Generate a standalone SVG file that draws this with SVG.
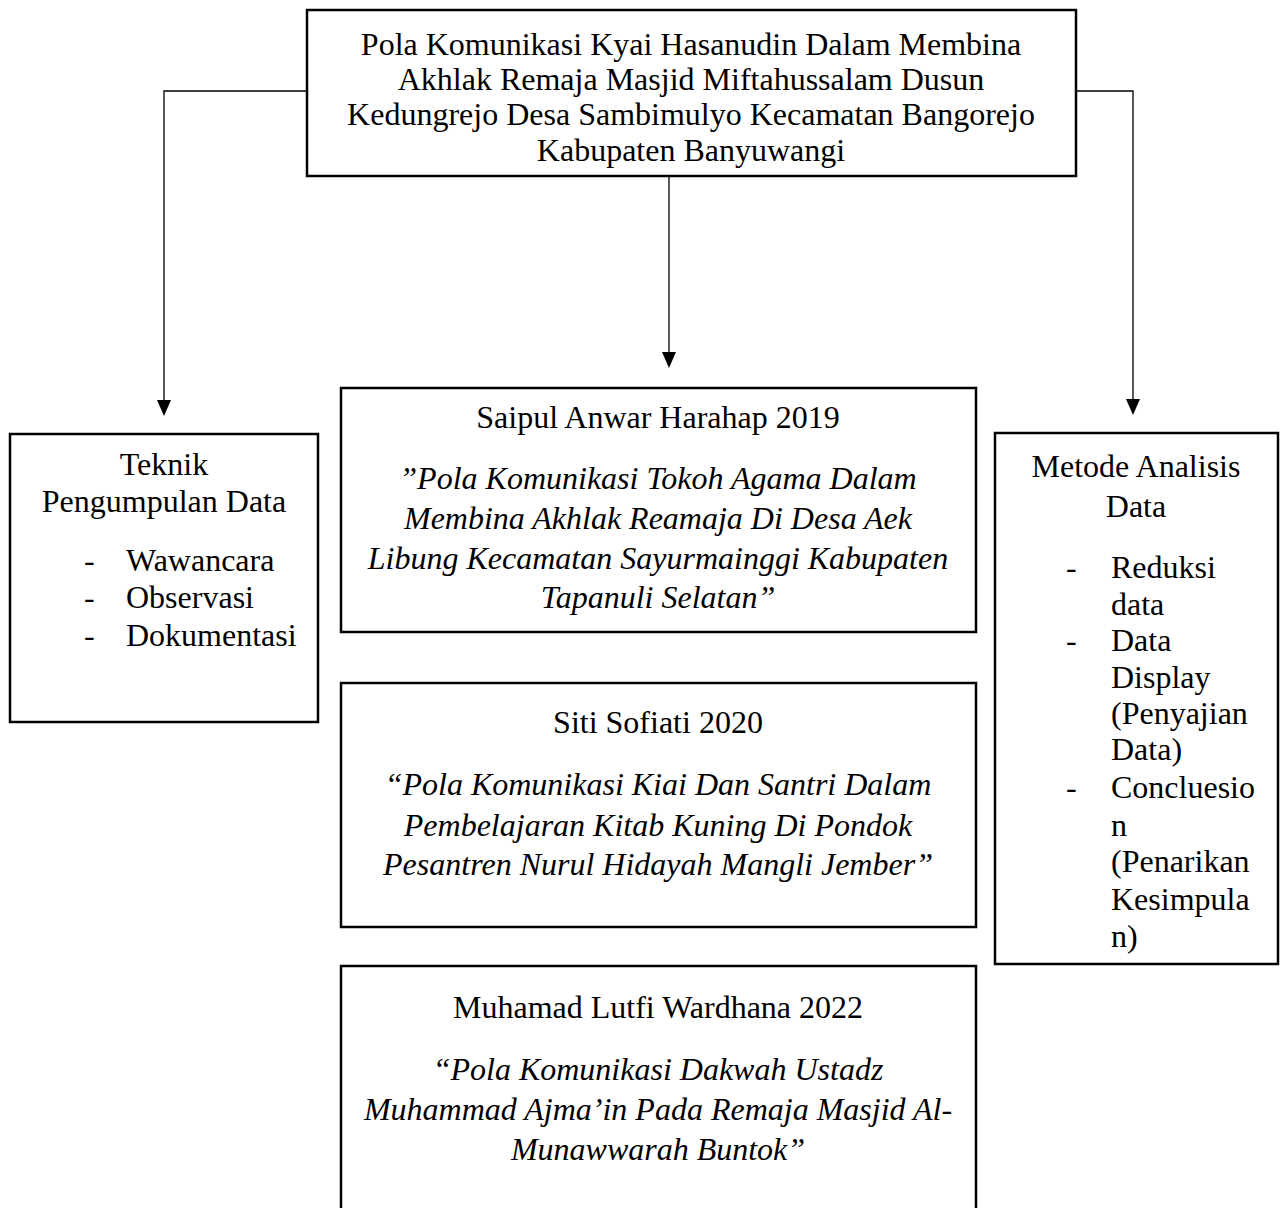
<svg xmlns="http://www.w3.org/2000/svg" width="1288" height="1208" viewBox="0 0 1288 1208">
<defs>
<style>
.box{fill:#fff;stroke:#000;stroke-width:2.5}
.t{font-family:"Liberation Serif","Times New Roman",serif;font-size:32px;fill:#000}
.c{text-anchor:middle}
.i{font-style:italic}
.ln{fill:none;stroke:#000;stroke-width:1.3}
</style>
</defs>
<rect width="1288" height="1208" fill="#fff"/>
<g id="connectors">
<polyline class="ln" points="307,91 164,91 164,400"/>
<path d="M157,400 L171,400 L164,416 Z" fill="#000"/>
<line class="ln" x1="669" y1="176" x2="669" y2="352"/>
<path d="M662,352 L676,352 L669,368 Z" fill="#000"/>
<polyline class="ln" points="1076,91 1133,91 1133,399"/>
<path d="M1126,399 L1140,399 L1133,415 Z" fill="#000"/>
</g>
<g id="main">
<rect class="box" x="307" y="10" width="769" height="166"/>
<text class="t c" x="691" y="55">Pola Komunikasi Kyai Hasanudin Dalam Membina</text>
<text class="t c" x="691" y="90">Akhlak Remaja Masjid Miftahussalam Dusun</text>
<text class="t c" x="691" y="125">Kedungrejo Desa Sambimulyo Kecamatan Bangorejo</text>
<text class="t c" x="691" y="161">Kabupaten Banyuwangi</text>
</g>
<g id="teknik">
<rect class="box" x="10" y="434" width="308" height="288"/>
<text class="t c" x="164" y="475">Teknik</text>
<text class="t c" x="164" y="512">Pengumpulan Data</text>
<text class="t" x="84" y="571">-</text><text class="t" x="126" y="571">Wawancara</text>
<text class="t" x="84" y="608">-</text><text class="t" x="126" y="608">Observasi</text>
<text class="t" x="84" y="646">-</text><text class="t" x="126" y="646">Dokumentasi</text>
</g>
<g id="saipul">
<rect class="box" x="341" y="388" width="635" height="244"/>
<text class="t c" x="658" y="428">Saipul Anwar Harahap 2019</text>
<text class="t c i" x="658" y="489">”Pola Komunikasi Tokoh Agama Dalam</text>
<text class="t c i" x="658" y="529">Membina Akhlak Reamaja Di Desa Aek</text>
<text class="t c i" x="658" y="569">Libung Kecamatan Sayurmainggi Kabupaten</text>
<text class="t c i" x="658" y="608">Tapanuli Selatan”</text>
</g>
<g id="siti">
<rect class="box" x="341" y="683" width="635" height="244"/>
<text class="t c" x="658" y="733">Siti Sofiati 2020</text>
<text class="t c i" x="658" y="795">“Pola Komunikasi Kiai Dan Santri Dalam</text>
<text class="t c i" x="658" y="836">Pembelajaran Kitab Kuning Di Pondok</text>
<text class="t c i" x="658" y="875">Pesantren Nurul Hidayah Mangli Jember”</text>
</g>
<g id="muhamad">
<rect class="box" x="341" y="966" width="635" height="260"/>
<text class="t c" x="658" y="1018">Muhamad Lutfi Wardhana 2022</text>
<text class="t c i" x="658" y="1080">“Pola Komunikasi Dakwah Ustadz</text>
<text class="t c i" x="658" y="1120">Muhammad Ajma’in Pada Remaja Masjid Al-</text>
<text class="t c i" x="658" y="1160">Munawwarah Buntok”</text>
</g>
<g id="metode">
<rect class="box" x="995" y="433" width="283" height="531"/>
<text class="t c" x="1136" y="477">Metode Analisis</text>
<text class="t c" x="1136" y="517">Data</text>
<text class="t" x="1066" y="578">-</text><text class="t" x="1111" y="578">Reduksi</text>
<text class="t" x="1111" y="615">data</text>
<text class="t" x="1066" y="651">-</text><text class="t" x="1111" y="651">Data</text>
<text class="t" x="1111" y="688">Display</text>
<text class="t" x="1111" y="724">(Penyajian</text>
<text class="t" x="1111" y="760">Data)</text>
<text class="t" x="1066" y="798">-</text><text class="t" x="1111" y="798">Concluesio</text>
<text class="t" x="1111" y="836">n</text>
<text class="t" x="1111" y="872">(Penarikan</text>
<text class="t" x="1111" y="910">Kesimpula</text>
<text class="t" x="1111" y="947">n)</text>
</g>
</svg>
